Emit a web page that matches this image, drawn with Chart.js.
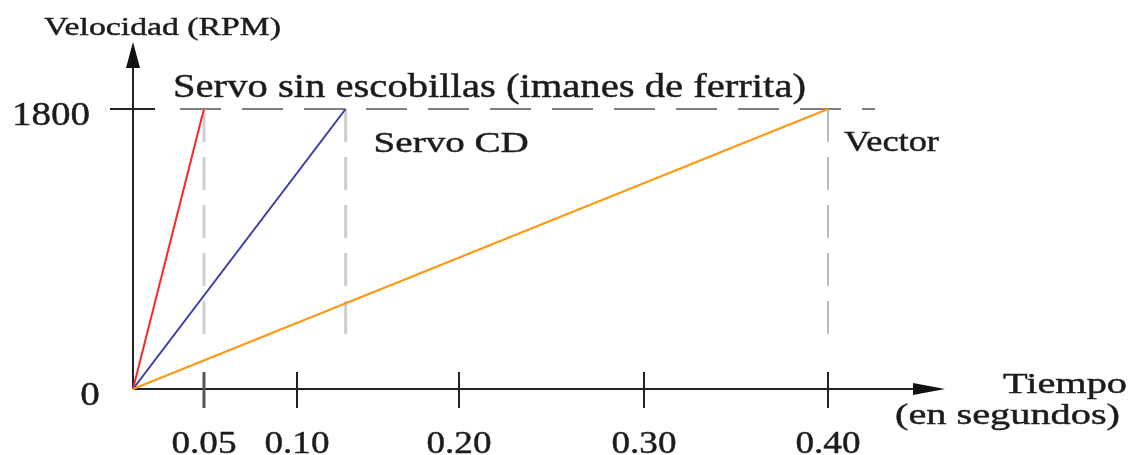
<!DOCTYPE html>
<html><head><meta charset="utf-8">
<script src="https://cdn.jsdelivr.net/npm/chart.js@4.4.1/dist/chart.umd.min.js"></script>
<style>html,body{margin:0;padding:0;background:#fff;overflow:hidden}#wrap{width:1133px;height:455px;position:relative}</style>
</head><body><div id="wrap"><canvas id="c"></canvas></div>
<script>
// ---- data ----
const seriesNames = ['Servo sin escobillas (imanes de ferrita)', 'Servo CD', 'Vector'];
const accelTimes = [0.05, 0.13, 0.40];   // s to reach top speed
const topSpeeds = [1800, 1800, 1800];    // RPM
const xTickValues = [0.05, 0.10, 0.20, 0.30, 0.40];
const xTickLabels = ['0.05', '0.10', '0.20', '0.30', '0.40'];
const yTickValues = [0, 1800];
const yTickLabels = ['0', '1800'];
const xAxisTitle = ['Tiempo', '(en segundos)'];
const yAxisTitle = 'Velocidad (RPM)';

// ---- styles ----
const seriesColors = ['#ff2626', '#3a3aae', '#ff960f'];
const SERIF = '"Liberation Serif", "Times New Roman", serif';
const INK = '#1c1c1c';

// piecewise-linear axis (the original schematic has uneven tick spacing)
class WarpScale extends Chart.LinearScale {
  _knots() { return this.options.knots; }
  _warp(v) {
    const k = this._knots();
    let i = 1;
    while (i < k.length - 1 && v > k[i][0]) i++;
    const a = k[i - 1], b = k[i];
    return a[1] + (v - a[0]) * (b[1] - a[1]) / (b[0] - a[0]);
  }
  _unwarp(f) {
    const k = this._knots();
    let i = 1;
    while (i < k.length - 1 && f > k[i][1]) i++;
    const a = k[i - 1], b = k[i];
    return a[0] + (f - a[1]) * (b[0] - a[0]) / (b[1] - a[1]);
  }
  getPixelForValue(v) { return this.getPixelForDecimal(this._warp(v)); }
  getValueForPixel(p) { return this._unwarp(this.getDecimalForPixel(p)); }
}
WarpScale.id = 'warp';
WarpScale.defaults = {};
Chart.register(WarpScale);

function fitText(ctx, txt, x, baseline, size, opts) {
  opts = opts || {};
  ctx.save();
  ctx.font = size + 'px ' + SERIF;
  ctx.fillStyle = INK;
  ctx.strokeStyle = INK;
  ctx.lineWidth = 0.45;
  ctx.textBaseline = 'alphabetic';
  ctx.textAlign = 'left';
  const w = ctx.measureText(txt).width;
  const s = opts.width ? opts.width / w : (opts.stretch || 1.2);
  const tw = w * s;
  let left = x;
  if (opts.align === 'center') left = x - tw / 2;
  else if (opts.align === 'right') left = x - tw;
  ctx.translate(left, baseline);
  ctx.scale(s, 1);
  ctx.fillText(txt, 0, 0);
  ctx.strokeText(txt, 0, 0);
  ctx.restore();
}

const decor = {
  id: 'decor',
  beforeDatasetsDraw(chart) {
    const { ctx, chartArea: ca, scales } = chart;
    const xs = scales.x, ys = scales.y;
    const x0 = xs.getPixelForValue(0), y0 = ys.getPixelForValue(0);
    const yTop = ys.getPixelForValue(topSpeeds[0]);
    ctx.save();
    // horizontal dashed guide at top speed
    ctx.strokeStyle = '#555'; ctx.lineWidth = 1.6; ctx.setLineDash([41, 21]);
    ctx.beginPath(); ctx.moveTo(x0 + 47, yTop); ctx.lineTo(xs.getPixelForValue(0.4) + 47, yTop); ctx.stroke();
    // vertical dashed guides
    accelTimes.forEach((t, i) => {
      const px = xs.getPixelForValue(t);
      const last = i === accelTimes.length - 1;
      ctx.strokeStyle = last ? '#a8a8a8' : '#cfcfcf';
      ctx.lineWidth = last ? 1.6 : 3;
      ctx.setLineDash([33, 15]);
      ctx.beginPath(); ctx.moveTo(px, yTop); ctx.lineTo(px, y0 - 46); ctx.stroke();
    });
    ctx.setLineDash([]);
    // axes
    ctx.strokeStyle = '#222'; ctx.fillStyle = '#111'; ctx.lineWidth = 2;
    ctx.beginPath(); ctx.moveTo(x0, y0); ctx.lineTo(x0, ca.top + 22); ctx.stroke();
    ctx.beginPath(); ctx.moveTo(x0, ca.top); ctx.lineTo(x0 - 7, ca.top + 26); ctx.lineTo(x0 + 7, ca.top + 26); ctx.closePath(); ctx.fill();
    ctx.beginPath(); ctx.moveTo(x0, y0); ctx.lineTo(ca.right - 28, y0); ctx.stroke();
    ctx.beginPath(); ctx.moveTo(ca.right, y0); ctx.lineTo(ca.right - 32, y0 - 6); ctx.lineTo(ca.right - 32, y0 + 6); ctx.closePath(); ctx.fill();
    // y tick at top speed
    ctx.beginPath(); ctx.moveTo(x0 - 23, yTop); ctx.lineTo(x0 + 22, yTop); ctx.stroke();
    // x ticks
    xTickValues.forEach((v, i) => {
      const px = xs.getPixelForValue(v);
      ctx.strokeStyle = i === 0 ? '#555' : '#222';
      ctx.lineWidth = i === 0 ? 3 : 2;
      ctx.beginPath(); ctx.moveTo(px, y0 - 17); ctx.lineTo(px, y0 + 19); ctx.stroke();
    });
    ctx.restore();
  },
  afterDatasetsDraw(chart) {
    const { ctx, chartArea: ca, scales } = chart;
    const xs = scales.x, ys = scales.y;
    const x0 = xs.getPixelForValue(0);
    // x tick labels
    xTickValues.forEach((v, i) => {
      fitText(ctx, xTickLabels[i], xs.getPixelForValue(v), 453, 31, { align: 'center', stretch: 1.2 });
    });
    // y tick labels
    fitText(ctx, yTickLabels[0], x0 - 43, ys.getPixelForValue(yTickValues[0]) + 16, 34, { align: 'center', stretch: 1.15 });
    fitText(ctx, yTickLabels[1], x0 - 121, ys.getPixelForValue(yTickValues[1]) + 16, 34, { width: 78 });
    // axis titles
    fitText(ctx, yAxisTitle, x0 - 89, 35, 26, { width: 237 });
    fitText(ctx, xAxisTitle[0], ca.right + 58, 393, 30, { width: 124 });
    fitText(ctx, xAxisTitle[1], ca.right - 50, 424, 30, { width: 225 });
    // series labels near end points
    const offs = [[-31, -12, 34, 633], [28, 43, 30, 155], [16, 42, 29, 95]];
    seriesNames.forEach((n, i) => {
      const px = xs.getPixelForValue(accelTimes[i]);
      const py = ys.getPixelForValue(topSpeeds[i]);
      const o = offs[i];
      fitText(ctx, n, px + o[0], py + o[1], o[2], { width: o[3] });
    });
  }
};

const datasets = seriesNames.map((n, i) => ({
  label: n,
  data: [{ x: 0, y: 0 }, { x: accelTimes[i], y: topSpeeds[i] }],
  borderColor: seriesColors[i],
  borderWidth: 2,
  pointRadius: 0,
  fill: false,
  tension: 0,
  clip: false
})).reverse();

new Chart(document.getElementById('c'), {
  type: 'line',
  data: { datasets },
  options: {
    responsive: true,
    maintainAspectRatio: false,
    animation: false,
    events: [],
    layout: { padding: { left: 133, right: 188, top: 42, bottom: 66 } },
    plugins: { legend: { display: false }, tooltip: { enabled: false }, title: { display: false } },
    scales: {
      x: {
        type: 'warp', display: false, min: 0, max: 0.4636,
        knots: [[0, 0], [0.05, 0.0874], [0.10, 0.2020], [0.20, 0.4015], [0.30, 0.6293], [0.40, 0.8559], [0.4636, 1]]
      },
      y: { type: 'linear', display: false, min: 0, max: 2230.7 }
    }
  },
  plugins: [decor]
});
</script>
</body></html>
